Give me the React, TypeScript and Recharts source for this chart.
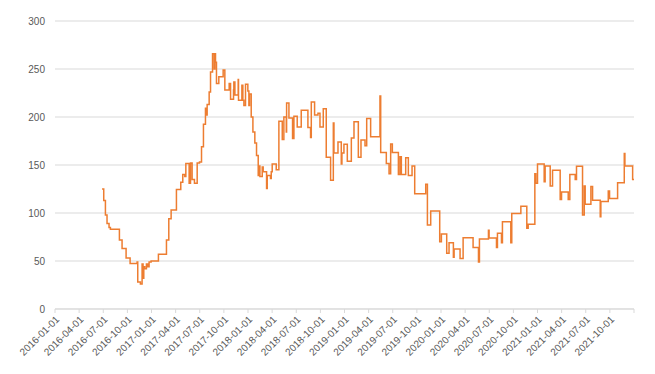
import { LineChart, Line, XAxis, YAxis, CartesianGrid } from 'recharts';

// months since 2016-01-01 at which the value changes (step chart)
const stepMonths = [
  5.85, 6.06, 6.27, 6.47, 6.72, 6.89, 8.01, 8.34, 8.84, 9.34, 10.21, 10.29, 10.62, 10.83, 10.95,
  11.04, 11.16, 11.37, 11.54, 11.7, 11.95, 12.86, 13.86, 14.15, 14.44, 15.1, 15.64, 15.89, 16.14,
  16.27, 16.68, 16.85, 17.05, 17.34, 17.68, 17.97, 18.22, 18.46, 18.71, 18.8, 18.92, 19.17, 19.34,
  19.59, 19.79, 19.88, 19.96, 20.08, 20.37, 20.91, 21.12, 21.66, 21.83, 22.2, 22.24, 22.37, 22.78,
  22.82, 23.24, 23.36, 23.49, 23.69, 23.98, 24.11, 24.19, 24.4, 24.61, 24.85, 25.06, 25.27, 25.44,
  25.48, 25.77, 25.89, 26.31, 26.39, 26.8, 26.89, 27.01, 27.51, 27.84, 28.26, 28.46, 28.76, 28.8,
  29.09, 29.54, 29.71, 30.12, 30.62, 31.45, 31.78, 31.87, 32.28, 32.7, 32.95, 33.36, 33.73, 34.27,
  34.61, 34.69, 35.19, 35.6, 35.68, 35.93, 36.35, 36.85, 37.18, 37.72, 38.05, 38.55, 38.76, 39.25,
  40.41, 40.5, 41.2, 41.54, 41.74, 41.95, 42.7, 42.9, 43.07, 43.61, 43.94, 44.4, 44.73, 46.1, 46.31,
  46.72, 47.84, 48.05, 48.71, 49.0, 49.54, 49.63, 50.37, 50.75, 51.99, 52.66, 52.78, 53.9, 53.98,
  54.9, 55.02, 55.52, 55.64, 56.68, 56.8, 57.93, 58.67, 58.84, 59.67, 59.79, 60.0, 60.83, 60.95,
  61.58, 61.87, 62.82, 62.99, 63.82, 64.02, 64.69, 64.85, 65.6, 65.81, 65.93, 66.64, 66.85, 67.8,
  67.88, 68.8, 68.96, 69.96, 70.79, 70.87, 71.83, 72,
];

const stepValues = [
  125, 113, 98, 89, 85, 83, 72, 63, 53, 47.5, 49, 28, 26, 47, 32,
  44, 42, 47, 44, 49, 50, 57, 72, 94, 103, 124.5, 132, 140, 138,
  151.5, 131, 152, 135, 131, 152, 153, 169, 192.5, 209, 202, 213, 226, 247,
  266, 250, 266, 257, 235, 242, 249, 228, 235, 218.5, 228, 236.5, 223, 239,
  217.5, 233, 217.5, 212, 234, 227, 212, 224, 200, 184.5, 173, 160, 139, 149,
  138, 148, 143, 125.5, 139, 136, 143, 151, 145, 195.6, 176.5, 200, 184.5, 214.7,
  199, 177.5, 200.8, 189.7, 207, 189, 178.6, 215.7, 202, 204, 189.7, 208.7, 158, 134,
  193.8, 162.6, 174, 151, 162.6, 171.7, 154, 178, 195, 158, 176, 170, 198.4, 179.3,
  222, 163, 151.5, 141, 172, 163, 140, 158.5, 140, 157.5, 139, 149, 120, 130, 87.4,
  102, 70, 78, 58, 69, 53.8, 62.4, 52.7, 74.2, 64, 49, 73, 82, 74,
  64, 79, 69, 91, 69, 99.5, 107, 84, 88.4, 141, 131, 151, 132.5, 149,
  128, 144.6, 114, 122, 114, 140, 135, 148.8, 97.8, 128, 109, 127.5, 113.4, 96,
  112, 122.8, 115, 131.4, 162, 149, 135, 135,
];

const quarterLabels = [
  '2016-01-01', '2016-04-01', '2016-07-01', '2016-10-01',
  '2017-01-01', '2017-04-01', '2017-07-01', '2017-10-01',
  '2018-01-01', '2018-04-01', '2018-07-01', '2018-10-01',
  '2019-01-01', '2019-04-01', '2019-07-01', '2019-10-01',
  '2020-01-01', '2020-04-01', '2020-07-01', '2020-10-01',
  '2021-01-01', '2021-04-01', '2021-07-01', '2021-10-01',
  '',
];

const yTicks = [0, 50, 100, 150, 200, 250, 300];

const data = stepMonths.map((m, i) => ({ m, value: stepValues[i] }));
const xTicks = quarterLabels.map((_, i) => i * 3);

const FONT = '"Liberation Sans", Arial, sans-serif';

export default function App() {
  return (
    <div style={{ position: 'absolute', left: 0, top: 0, background: '#fff' }}>
      <LineChart width={655} height={374} data={data} margin={{ top: 21, right: 21, left: 0, bottom: 0 }}>
        <CartesianGrid vertical={false} stroke="#d9d9d9" />
        <XAxis
          dataKey="m"
          type="number"
          domain={[0, 72]}
          ticks={xTicks}
          interval={0}
          tickFormatter={(v: number) => quarterLabels[Math.round(v / 3)]}
          angle={-45}
          textAnchor="end"
          height={65}
          tickSize={4}
          tickMargin={2}
          axisLine={{ stroke: '#d9d9d9' }}
          tickLine={{ stroke: '#d9d9d9' }}
          tick={{ fill: '#595959', fontSize: 10, fontFamily: FONT }}
        />
        <YAxis
          domain={[0, 300]}
          ticks={yTicks}
          width={55}
          axisLine={false}
          tickLine={false}
          tickSize={0}
          tickMargin={10}
          tick={{ fill: '#595959', fontSize: 10, fontFamily: FONT }}
        />
        <Line
          type="stepAfter"
          dataKey="value"
          stroke="#ED7D31"
          strokeWidth={1.5}
          dot={false}
          isAnimationActive={false}
        />
      </LineChart>
    </div>
  );
}
